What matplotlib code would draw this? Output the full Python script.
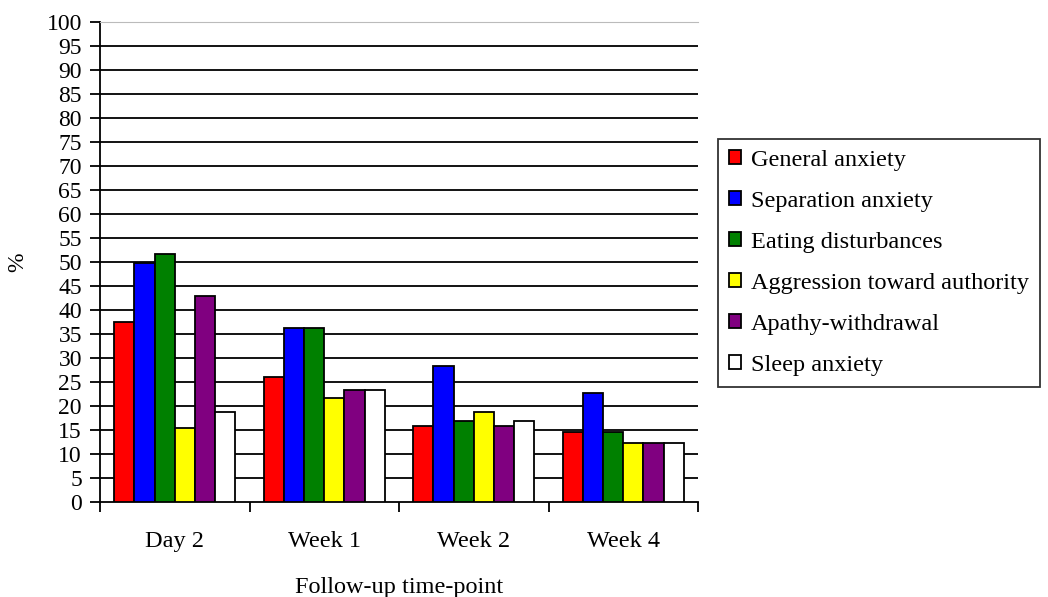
import matplotlib.pyplot as plt
import numpy as np

plt.rcParams['font.family'] = 'Liberation Serif'

timepoints = ['Day 2', 'Week 1', 'Week 2', 'Week 4']
symptoms = ['General anxiety', 'Separation anxiety', 'Eating disturbances',
            'Aggression toward authority', 'Apathy-withdrawal', 'Sleep anxiety']

general_anxiety = [37.5, 26.0, 15.7, 14.4]
separation_anxiety = [49.7, 36.1, 28.3, 22.7]
eating_disturbances = [51.6, 36.1, 16.7, 14.4]
aggression = [15.3, 21.6, 18.7, 12.3]
apathy = [42.8, 23.3, 15.7, 12.3]
sleep_anxiety = [18.7, 23.3, 16.7, 12.3]

series = [general_anxiety, separation_anxiety, eating_disturbances,
          aggression, apathy, sleep_anxiety]
colors = ['#FF0000', '#0000FF', '#008000', '#FFFF00', '#800080', '#FFFFFF']

fig = plt.figure(figsize=(10.48, 5.97), dpi=100)
ax = fig.add_axes([100 / 1048, 1 - 501.5 / 597, 598 / 1048, 479.5 / 597])

x = np.arange(len(timepoints))
width = 0.135
for i, (vals, c, name) in enumerate(zip(series, colors, symptoms)):
    ax.bar(x + (i - 2.5) * width, vals, width, color=c, edgecolor='black',
           linewidth=1.3, label=name, zorder=3)

ax.set_xlim(-0.5, len(timepoints) - 0.5)
ax.set_ylim(0, 100)
ax.set_yticks(np.arange(0, 101, 5))
for y in range(5, 100, 5):
    ax.axhline(y, color='black', linewidth=1.3, zorder=1)

ax.set_xticks(x)
ax.set_xticklabels(timepoints)
ax.set_xticks(np.arange(-0.5, len(timepoints)), minor=True)
ax.tick_params(axis='x', which='major', length=0, pad=21, labelsize=17.5)
ax.tick_params(axis='x', which='minor', length=7, width=1.3, direction='out')
ax.tick_params(axis='y', length=7, width=1.3, direction='out', pad=6,
               labelsize=17)

ax.spines['right'].set_visible(False)
ax.spines['top'].set_color('#bbbbbb')
ax.spines['left'].set_linewidth(1.3)
ax.spines['bottom'].set_linewidth(1.3)

ax.set_xlabel('Follow-up time-point', fontsize=17.5, labelpad=18)
fig.text(18 / 1048, 1 - 262 / 597, '%', fontsize=17, rotation=90,
         ha='center', va='center')

leg = ax.legend(loc='upper left', bbox_to_anchor=(718 / 1048, 1 - 139 / 597),
                bbox_transform=fig.transFigure, borderaxespad=0, fontsize=17.5,
                frameon=True, fancybox=False, edgecolor='black',
                handlelength=0.5, handleheight=0.5, handletextpad=0.4,
                labelspacing=0.82, borderpad=0.45)
leg.get_frame().set_linewidth(1.3)

fig.savefig('out.png', dpi=100)
